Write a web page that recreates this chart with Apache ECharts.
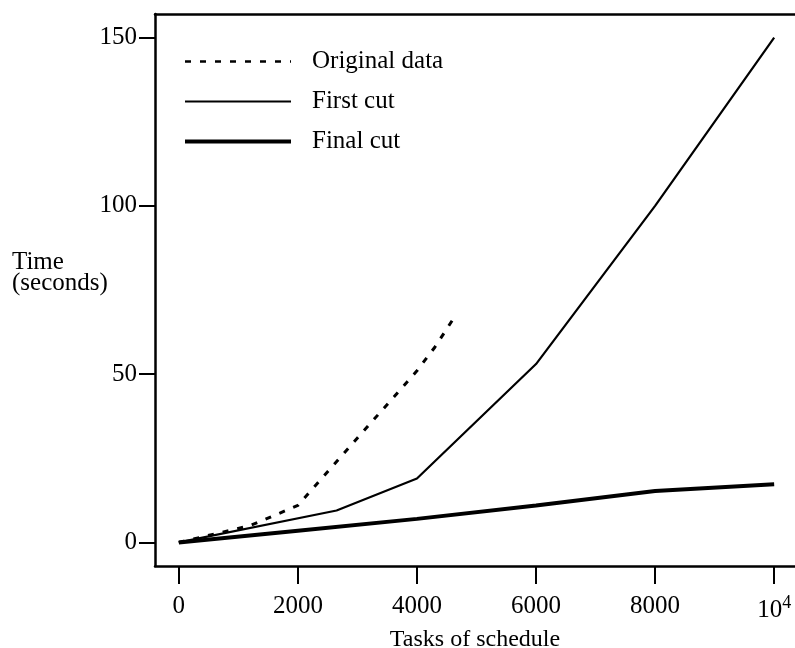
<!DOCTYPE html>
<html>
<head>
<meta charset="utf-8">
<style>
  html, body { margin: 0; padding: 0; background: #fff; }
  #chart { width: 795px; height: 648px; }
</style>
<script src="https://cdn.jsdelivr.net/npm/echarts@6/dist/echarts.min.js"></script>
</head>
<body>
<div id="chart"></div>
<script>
// Run time against schedule size, three versions of the program
const xTicks = [0, 2000, 4000, 6000, 8000, 10000];
const yTicks = [0, 50, 100, 150];

const originalTasks = [0, 1200, 2000, 2350, 3200, 4000, 4300, 4650];
const originalTime  = [0, 5, 11, 18, 35, 51, 58, 67.5];

const firstTasks = [0, 2650, 4000, 6000, 8000, 10000];
const firstTime  = [0, 9.5, 19, 53, 100, 150];

const finalTasks = [0, 2000, 4000, 6000, 8000, 10000];
const finalTime  = [0, 3.5, 7, 11, 15.3, 17.3];

const seriesNames = ['Original data', 'First cut', 'Final cut'];
const yTitle = 'Time\n(seconds)';
const xTitle = 'Tasks of schedule';

const FONT = '"Liberation Serif", "DejaVu Serif", serif';
const pairs = (xs, ys) => xs.map((x, i) => [x, ys[i]]);

const dashStyle = { color: '#000', width: 3, type: [6, 9] };
const firstStyle = { color: '#000', width: 2.2 };
const finalStyle = { color: '#000', width: 4 };

const chart = echarts.init(document.getElementById('chart'), null, { renderer: 'canvas' });

chart.setOption({
  backgroundColor: '#fff',
  animation: false,
  textStyle: { fontFamily: FONT, color: '#000' },
  grid: { left: 155, right: 0, top: 14, bottom: 82, containLabel: false, outerBoundsMode: 'none' },
  legend: {
    orient: 'vertical',
    left: 183,
    top: 49,
    padding: 0,
    itemWidth: 106,
    itemHeight: 24,
    itemGap: 15,
    itemStyle: { opacity: 0 },
    data: [
      { name: seriesNames[0], lineStyle: { color: '#000', width: 2.5, type: [6, 9] } },
      { name: seriesNames[1], lineStyle: firstStyle },
      { name: seriesNames[2], lineStyle: finalStyle }
    ],
    textStyle: { fontFamily: FONT, fontSize: 25, color: '#000', padding: [0, 0, 0, 16] }
  },
  graphic: [{
    type: 'text',
    left: 12,
    top: 250,
    silent: true,
    style: { text: yTitle, font: '25px ' + FONT, fill: '#000', lineHeight: 21 }
  }],
  xAxis: [{
    type: 'value',
    min: -400,
    max: 10350,
    position: 'bottom',
    name: xTitle,
    nameLocation: 'middle',
    nameGap: 60,
    nameTextStyle: { fontFamily: FONT, fontSize: 24, color: '#000' },
    axisLine: { show: true, onZero: false, lineStyle: { color: '#000', width: 2.5 } },
    axisTick: { show: true, inside: false, length: 18, customValues: xTicks, lineStyle: { color: '#000', width: 2 } },
    axisLabel: {
      margin: 28,
      customValues: xTicks,
      fontFamily: FONT,
      fontSize: 25,
      color: '#000',
      formatter: v => v === 10000 ? '{b|10}{s|4}' : String(v),
      rich: {
        b: { fontFamily: FONT, fontSize: 25, color: '#000' },
        s: { fontFamily: FONT, fontSize: 18, color: '#000', verticalAlign: 'top', padding: [0, 0, 14, 0] }
      }
    },
    splitLine: { show: false }
  }, {
    type: 'value',
    min: -400,
    max: 10350,
    position: 'top',
    axisLine: { show: true, onZero: false, lineStyle: { color: '#000', width: 2.5 } },
    axisTick: { show: false },
    axisLabel: { show: false },
    splitLine: { show: false }
  }],
  yAxis: {
    type: 'value',
    min: -7,
    max: 157,
    axisLine: { show: true, onZero: false, lineStyle: { color: '#000', width: 2.5 } },
    axisTick: { show: true, inside: false, length: 16, customValues: yTicks, lineStyle: { color: '#000', width: 2 } },
    axisLabel: { margin: 18, customValues: yTicks, fontFamily: FONT, fontSize: 25, color: '#000' },
    splitLine: { show: false }
  },
  series: [{
    name: seriesNames[0],
    type: 'line',
    data: pairs(originalTasks, originalTime),
    symbol: 'none',
    lineStyle: dashStyle,
    itemStyle: { color: '#000' }
  }, {
    name: seriesNames[1],
    type: 'line',
    data: pairs(firstTasks, firstTime),
    symbol: 'none',
    lineStyle: firstStyle,
    itemStyle: { color: '#000' }
  }, {
    name: seriesNames[2],
    type: 'line',
    data: pairs(finalTasks, finalTime),
    symbol: 'none',
    lineStyle: finalStyle,
    itemStyle: { color: '#000' }
  }]
});
</script>
</body>
</html>
